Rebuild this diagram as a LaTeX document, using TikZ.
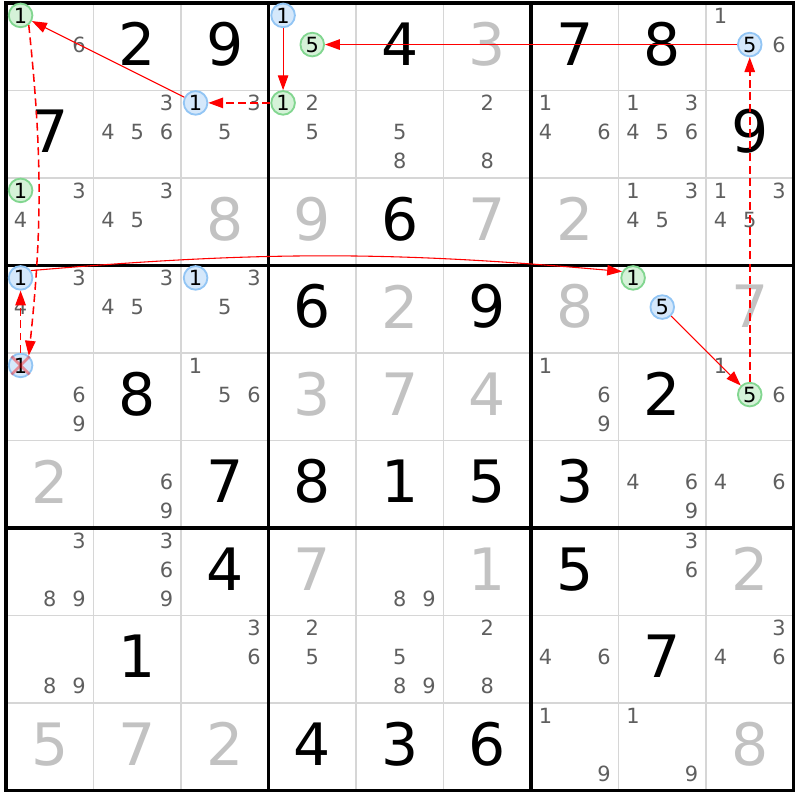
\documentclass[tikz,border=0pt]{standalone}
\usepackage{fontspec}
\setmainfont{DejaVu Sans}
\usetikzlibrary{
	arrows.meta
}
\definecolor{candgrey}{HTML}{5F5F5F}
\definecolor{solvedgrey}{HTML}{C2C2C2}
\definecolor{cellgrey}{HTML}{D6D6D6}
\definecolor{bluefill}{HTML}{D5E8FB}
\definecolor{bluedraw}{HTML}{92C5F4}
\definecolor{greenfill}{HTML}{D5F2D8}
\definecolor{greendraw}{HTML}{82D690}
\tikzset{
	cellline/.style={cellgrey,line width=.45pt},
	boxline/.style={black,line width=1pt,line cap=rect},
	given/.style={inner sep=0pt,font=\fontsize{19}{19}\selectfont},
	solved/.style={given,text=solvedgrey},
	cand/.style={inner sep=0pt,text=candgrey,font=\fontsize{6.8}{7}\selectfont},
	bluecand/.style={cand,text=black,circle,minimum size=2.7mm,
		line width=.6pt,draw=bluedraw,fill=bluefill},
	greencand/.style={bluecand,draw=greendraw,fill=greenfill},
	strongLink/.style={red,line width=.35pt,
		-{Triangle[length=1.7mm,width=1.2mm]}},
	weakLink/.style={strongLink,line width=.5pt,dash pattern=on .9mm off .5mm},
	crossout/.style={red,opacity=.4,line width=.9pt}
}

\begin{document}
\begin{tikzpicture}
	\useasboundingbox (-.0686,-.1086) rectangle (9.0743,9.0343);

	% cell lines, then box lines
	\foreach \i in {1,2,4,5,7,8} {
		\draw[cellline] (\i,0) -- (\i,9);
		\draw[cellline] (0,\i) -- (9,\i);
	}
	\foreach \i in {0,3,6,9} {
		\draw[boxline] (\i,0) -- (\i,9);
		\draw[boxline] (0,\i) -- (9,\i);
	}

	% givens
	\foreach \r/\c/\d in {
		1/2/2, 1/3/9, 1/5/4, 1/7/7, 1/8/8, 2/1/7, 2/9/9, 3/5/6,
		4/4/6, 4/6/9, 5/2/8, 5/8/2, 6/3/7, 6/4/8, 6/5/1, 6/6/5, 6/7/3,
		7/3/4, 7/7/5, 8/2/1, 8/8/7, 9/4/4, 9/5/3, 9/6/6}
		\node[given] (g\r\c) at (\c-.5,9.53-\r) {\d};

	% solved cells
	\foreach \r/\c/\d in {
		1/6/3, 3/3/8, 3/4/9, 3/6/7, 3/7/2, 4/5/2, 4/7/8, 4/9/7,
		5/4/3, 5/5/7, 5/6/4, 6/1/2, 7/4/7, 7/6/1, 7/9/2,
		9/1/5, 9/2/7, 9/3/2, 9/9/8}
		\node[solved] (s\r\c) at (\c-.5,9.53-\r) {\d};

	% candidates
	\foreach \r/\c/\ks in {
		1/1/{6}, 1/9/{1,6},
		2/2/{3,4,5,6}, 2/3/{3,5}, 2/4/{2,5}, 2/5/{5,8}, 2/6/{2,8},
		2/7/{1,4,6}, 2/8/{1,3,4,5,6},
		3/1/{3,4}, 3/2/{3,4,5}, 3/8/{1,3,4,5}, 3/9/{1,3,4,5},
		4/1/{3,4}, 4/2/{3,4,5}, 4/3/{3,5},
		5/1/{6,9}, 5/3/{1,5,6}, 5/7/{1,6,9}, 5/9/{1,6},
		6/2/{6,9}, 6/8/{4,6,9}, 6/9/{4,6},
		7/1/{3,8,9}, 7/2/{3,6,9}, 7/5/{8,9}, 7/8/{3,6},
		8/1/{8,9}, 8/3/{3,6}, 8/4/{2,5}, 8/5/{5,8,9}, 8/6/{2,8},
		8/7/{4,6}, 8/9/{3,4,6},
		9/7/{1,9}, 9/8/{1,9}}
		\foreach \k in \ks {
			\pgfmathsetmacro\cx{\c-1+(mod(\k-1,3)+.5)/3}
			\pgfmathsetmacro\cy{10-\r-(floor((\k-1)/3)+.5)/3+.025}
			\node[cand] (p\r\c\k) at (\cx,\cy) {\k};
		}

	% chain candidates
	\foreach \r/\c/\k in {1/4/1, 1/9/5, 2/3/1, 4/1/1, 4/3/1, 4/8/5, 5/1/1} {
		\pgfmathsetmacro\cx{\c-1+(mod(\k-1,3)+.5)/3}
		\pgfmathsetmacro\cy{10-\r-(floor((\k-1)/3)+.5)/3+.025}
		\node[bluecand] (p\r\c\k) at (\cx,\cy) {\k};
	}
	\foreach \r/\c/\k in {1/1/1, 1/4/5, 2/4/1, 3/1/1, 4/8/1, 5/9/5} {
		\pgfmathsetmacro\cx{\c-1+(mod(\k-1,3)+.5)/3}
		\pgfmathsetmacro\cy{10-\r-(floor((\k-1)/3)+.5)/3+.025}
		\node[greencand] (p\r\c\k) at (\cx,\cy) {\k};
	}
	\draw[crossout] (p511.135) -- (p511.-45) (p511.45) -- (p511.-135);

	% links
	\draw[strongLink] (p231) -- (p111);
	\draw[weakLink]   (p241) -- (p231);
	\draw[strongLink] (p141) -- (p241);
	\draw[strongLink] (p195) -- (p145);
	\draw[weakLink]   (p595) -- (p195);
	\draw[strongLink] (p485) -- (p595);
	\draw[strongLink] (p411.35) to[bend left=5] (p481.150);
	\draw[weakLink]   (p511) -- (p411);
	\draw[weakLink]   (p111.-50) to[bend left=6] (p511.50);
\end{tikzpicture}
\end{document}
